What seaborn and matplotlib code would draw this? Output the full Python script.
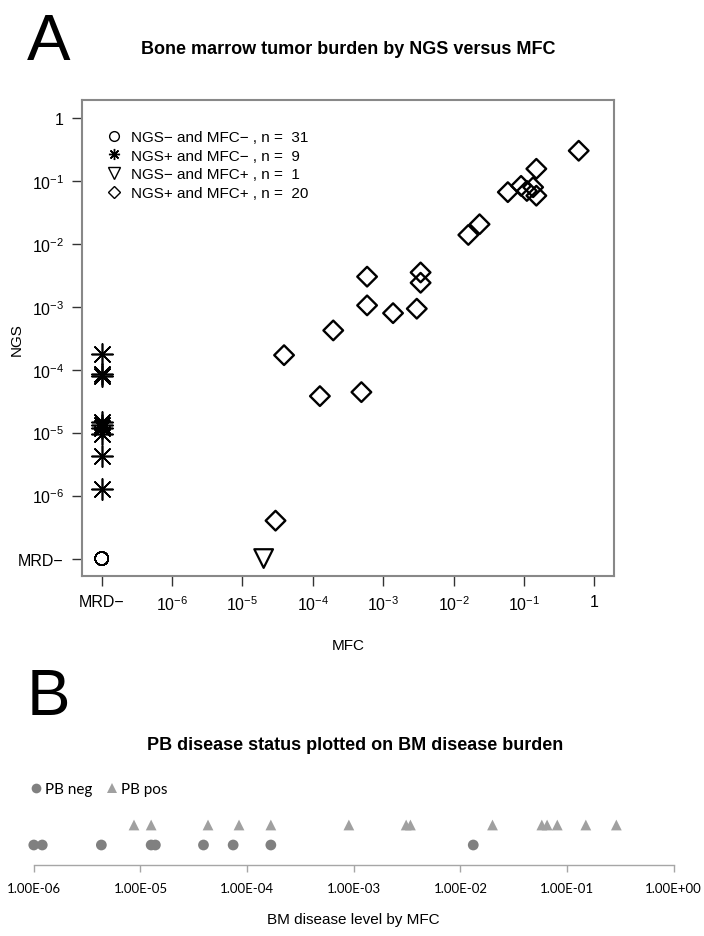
import numpy as np
import pandas as pd
import matplotlib
matplotlib.use("Agg")
import matplotlib.pyplot as plt
from matplotlib.lines import Line2D
import seaborn as sns

# ---- Panel A data (0 = MRD-, not detected) ----
negneg_mfc = [0] * 31
negneg_ngs = [0] * 31

posneg_mfc = [0] * 9
posneg_ngs = [1.75e-4, 8.5e-5, 7.8e-5, 1.45e-5, 1.3e-5, 1.2e-5, 9.5e-6, 4.3e-6, 1.26e-6]

negpos_mfc = [2.0e-5]
negpos_ngs = [0]

pospos_mfc = [0.60, 0.15, 0.059, 0.091, 0.11, 0.135, 0.15, 0.0234, 0.0162, 5.9e-4,
              3.4e-3, 3.4e-3, 5.9e-4, 1.38e-3, 3.0e-3, 1.95e-4, 3.9e-5, 1.26e-4, 4.9e-4, 2.95e-5]
pospos_ngs = [0.30, 0.155, 0.066, 0.083, 0.069, 0.079, 0.058, 0.0204, 0.0138, 3.0e-3,
              3.5e-3, 2.4e-3, 1.05e-3, 7.9e-4, 9.3e-4, 4.2e-4, 1.7e-4, 3.8e-5, 4.4e-5, 4.0e-7]

group_labels = ["NGS\u2212 and MFC\u2212 , n =  31", "NGS+ and MFC\u2212 , n =  9",
                "NGS\u2212 and MFC+ , n =  1", "NGS+ and MFC+ , n =  20"]

# ---- Panel B data ----
pb_neg = [1.0e-6, 1.2e-6, 4.3e-6, 1.26e-5, 1.38e-5, 3.9e-5, 7.4e-5, 1.67e-4, 0.0132]
pb_pos = [8.7e-6, 1.26e-5, 4.3e-5, 8.4e-5, 1.67e-4, 9.0e-4, 3.1e-3, 3.4e-3, 0.02,
          0.058, 0.065, 0.081, 0.15, 0.29]

MRD_POS = 1e-7

sns.set_style("white")
plt.rcParams["font.family"] = ["Liberation Sans", "DejaVu Sans"]
plt.rcParams["mathtext.fontset"] = "custom"
plt.rcParams["mathtext.rm"] = "Liberation Sans"
plt.rcParams["mathtext.it"] = "Liberation Sans:italic"
plt.rcParams["text.color"] = "black"
plt.rcParams["axes.labelcolor"] = "black"
plt.rcParams["xtick.color"] = "black"
plt.rcParams["ytick.color"] = "black"

fig = plt.figure(figsize=(7.04, 9.37), dpi=100)

# ---------------- Panel A ----------------
frames = []
for name, mfc, ngs in [("nn", negneg_mfc, negneg_ngs), ("pn", posneg_mfc, posneg_ngs),
                       ("np", negpos_mfc, negpos_ngs), ("pp", pospos_mfc, pospos_ngs)]:
    d = pd.DataFrame({"mfc": mfc, "ngs": ngs})
    d["group"] = name
    frames.append(d)
dfa = pd.concat(frames, ignore_index=True)
dfa["x"] = dfa["mfc"].where(dfa["mfc"] > 0, MRD_POS)
dfa["y"] = dfa["ngs"].where(dfa["ngs"] > 0, MRD_POS)

ax = fig.add_axes([0.1165, 0.384, 0.7557, 0.508])
ax.set_xscale("log")
ax.set_yscale("log")

styles = {"nn": dict(marker="o", s=90, linewidth=0.9),
          "pn": dict(marker=(8, 2, 0), s=230, linewidth=1.2),
          "np": dict(marker="v", s=180, linewidth=1.6),
          "pp": dict(marker="D", s=100, linewidth=1.7)}
for g, st in styles.items():
    sub = dfa[dfa["group"] == g]
    if g == "pn":
        sns.scatterplot(data=sub, x="x", y="y", ax=ax, color="black",
                        legend=False, **st)
    else:
        sns.scatterplot(data=sub, x="x", y="y", ax=ax, facecolor="none",
                        edgecolor="black", legend=False, **st)

lo, hi = 10 ** -7.28, 10 ** 0.28
ax.set_xlim(lo, hi)
ax.set_ylim(lo, hi)
ticks = [1e-7, 1e-6, 1e-5, 1e-4, 1e-3, 1e-2, 1e-1, 1]
tlabels = ["MRD\u2212", r"$10^{-6}$", r"$10^{-5}$", r"$10^{-4}$", r"$10^{-3}$",
           r"$10^{-2}$", r"$10^{-1}$", "1"]
ax.set_xticks(ticks)
ax.set_xticklabels(tlabels)
ax.set_yticks(ticks)
ax.set_yticklabels(tlabels)
ax.minorticks_off()
ax.tick_params(axis="both", which="major", direction="out", length=7, width=1,
               color="#333333", labelsize=11.5, pad=6, bottom=True, left=True)
for sp in ax.spines.values():
    sp.set_color("#888888")
    sp.set_linewidth(1.5)
ax.set_xlabel("MFC", fontsize=11)
ax.set_ylabel("NGS", fontsize=11)
ax.xaxis.set_label_coords(0.5, -0.13)
ax.yaxis.set_label_coords(-0.11, 0.5)

handles = [
    Line2D([], [], marker="o", ls="none", mfc="none", mec="black", ms=7, mew=1),
    Line2D([], [], marker=(8, 2, 0), ls="none", color="black", ms=8, mew=1),
    Line2D([], [], marker="v", ls="none", mfc="none", mec="black", ms=8, mew=1),
    Line2D([], [], marker="D", ls="none", mfc="none", mec="black", ms=6, mew=1),
]
ax.legend(handles, group_labels, loc="upper left", bbox_to_anchor=(0.035, 0.95),
          frameon=False, fontsize=11, handlelength=1.0, handletextpad=0.6,
          labelspacing=0.3, borderaxespad=0)

fig.text(0.038, 0.986, "A", fontsize=47, va="top", ha="left")
fig.text(0.494, 1 - 50 / 937, "Bone marrow tumor burden by NGS versus MFC",
         fontsize=13, fontweight="bold", ha="center", va="center")

# ---------------- Panel B ----------------
dfb = pd.concat([pd.DataFrame({"mfc": pb_neg, "pb": "PB neg"}),
                 pd.DataFrame({"mfc": pb_pos, "pb": "PB pos"})], ignore_index=True)
dfb["row"] = dfb["pb"].map({"PB neg": 1, "PB pos": 2})

axb = fig.add_axes([33.8 / 704, 1 - 866 / 937, (673.7 - 33.8) / 704, 56 / 937])
axb.set_xscale("log")
sns.scatterplot(data=dfb, x="mfc", y="row", style="pb", hue="pb",
                markers={"PB neg": "o", "PB pos": "^"},
                palette={"PB neg": "#808080", "PB pos": "#a0a0a0"},
                s=60, linewidth=0, ax=axb, legend=False, clip_on=False)
axb.set_xlim(1e-6, 1)
axb.set_ylim(0, 2.8)
btick = [1e-6, 1e-5, 1e-4, 1e-3, 1e-2, 1e-1, 1]
axb.set_xticks(btick)
axb.set_xticklabels(["1.00E-06", "1.00E-05", "1.00E-04", "1.00E-03",
                     "1.00E-02", "1.00E-01", "1.00E+00"], family=["Lato", "DejaVu Sans"])
axb.minorticks_off()
axb.set_yticks([])
axb.set_ylabel("")
for side in ["left", "top", "right"]:
    axb.spines[side].set_visible(False)
axb.spines["bottom"].set_color("#a6a6a6")
axb.spines["bottom"].set_linewidth(1)
axb.tick_params(axis="x", direction="out", length=5, width=1, color="#a6a6a6",
                labelsize=9.5, pad=7, bottom=True)
axb.set_xlabel("BM disease level by MFC", fontsize=11, labelpad=13)
axb.patch.set_alpha(0)

bh = [Line2D([], [], marker="o", ls="none", color="#808080", ms=7, mew=0),
      Line2D([], [], marker="^", ls="none", color="#a0a0a0", ms=7, mew=0)]
fig.legend(bh, ["PB neg", "PB pos"], loc="center left",
           bbox_to_anchor=(25 / 704, 1 - 790 / 937), ncol=2, frameon=False,
           prop={"family": ["Lato", "DejaVu Sans"], "size": 11},
           handlelength=0.6, handletextpad=0.3, columnspacing=1.0, borderaxespad=0)

fig.text(0.038, 1 - 668 / 937, "B", fontsize=47, va="top", ha="left")
fig.text(355 / 704, 1 - 746 / 937, "PB disease status plotted on BM disease burden",
         fontsize=13, fontweight="bold", ha="center", va="center")

fig.savefig("out.png", dpi=100)
